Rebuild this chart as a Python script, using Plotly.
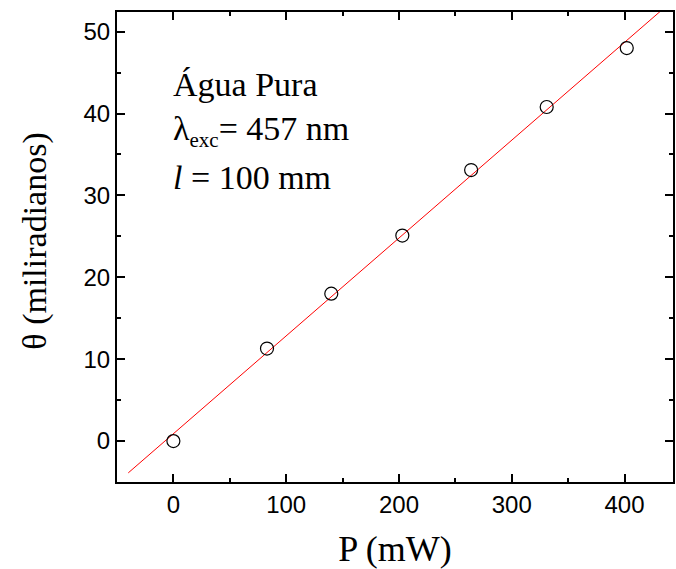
import numpy as np
import plotly.graph_objects as go

# Measured deflection angle versus laser power
power_mw = [0, 83, 140, 203, 264, 331, 402]
theta_mrad = [0, 11.3, 18.0, 25.1, 33.1, 40.8, 48.0]

x_ticks = [0, 100, 200, 300, 400]
y_ticks = [0, 10, 20, 30, 40, 50]

# Linear least-squares fit
slope, intercept = np.polyfit(power_mw, theta_mrad, 1)
fit_x = np.array([-40, 450])
fit_y = slope * fit_x + intercept

fig = go.Figure()
fig.add_trace(go.Scatter(
    x=fit_x, y=fit_y, mode="lines",
    line=dict(color="#ff0000", width=1), showlegend=False,
))
fig.add_trace(go.Scatter(
    x=power_mw, y=theta_mrad, mode="markers",
    marker=dict(symbol="circle-open", size=13, color="black", line=dict(width=1.2)),
    showlegend=False,
))

serif = "Liberation Serif, Times New Roman, serif"
sans = "Liberation Sans, Arial, sans-serif"

axis_common = dict(
    showline=True, linecolor="black", linewidth=2, mirror="ticks",
    ticks="inside", ticklen=8, tickwidth=2, tickcolor="black",
    showgrid=False, zeroline=False,
    tickfont=dict(family=sans, size=24, color="black"),
)

fig.update_xaxes(
    range=[-50, 443], tickvals=x_ticks,
    minor=dict(ticks="inside", ticklen=4, tickwidth=2, tickcolor="black", dtick=50, tick0=0),
    title=dict(text="P (mW)", font=dict(family=serif, size=36, color="black"), standoff=22),
    **axis_common,
)
fig.update_yaxes(
    range=[-5, 52.4], tickvals=y_ticks,
    minor=dict(ticks="inside", ticklen=4, tickwidth=2, tickcolor="black", dtick=5, tick0=0),
    **axis_common,
)

# Vertical axis title placed as a rotated annotation
fig.add_annotation(
    x=-0.147, y=0.512, xref="paper", yref="paper",
    text="θ (miliradianos)", textangle=-90, showarrow=False,
    xanchor="center", yanchor="middle",
    font=dict(family=serif, size=34, color="black"),
)

label_font = dict(family=serif, size=34, color="black")
labels = [
    ("Água Pura", 43.6),
    ("λ<sub><span style=\"font-size:21px\">exc</span></sub>= 457 nm", 37.9),
    ("<i>l</i> = 100 mm", 32.2),
]
for text, yv in labels:
    fig.add_annotation(
        x=-2, y=yv, xref="x", yref="y", text=text, showarrow=False,
        xanchor="left", yanchor="middle", font=label_font,
    )

fig.update_layout(
    width=676, height=569,
    margin=dict(l=117, r=1, t=12, b=87),
    paper_bgcolor="white", plot_bgcolor="white",
)

fig.write_html("out.html")
